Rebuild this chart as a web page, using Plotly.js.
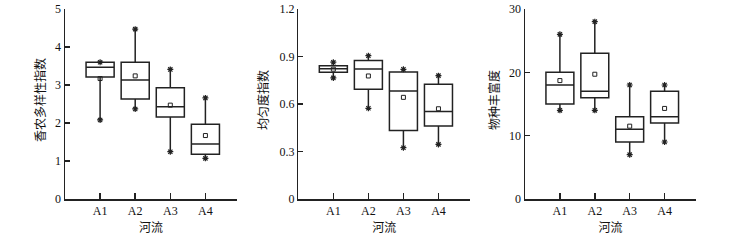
<!DOCTYPE html>
<html><head><meta charset="utf-8">
<script src="https://cdn.plot.ly/plotly-3.0.1.min.js"></script>
<style>html,body{margin:0;padding:0;background:#fff}#c{width:752px;height:240px}</style>
</head><body><div id="c"></div>
<script>
const categories = ["A1","A2","A3","A4"];
// 香农多样性指数
const sh_min = [2.08, 2.37, 1.245, 1.07];
const sh_q1 = [3.21, 2.63, 2.16, 1.18];
const sh_med = [3.47, 3.13, 2.43, 1.45];
const sh_q3 = [3.6, 3.6, 2.93, 1.97];
const sh_max = [3.6, 4.47, 3.41, 2.66];
const sh_mean = [3.17, 3.24, 2.47, 1.67];
// 均匀度指数
const ev_min = [0.765, 0.573, 0.324, 0.345];
const ev_q1 = [0.80, 0.693, 0.432, 0.461];
const ev_med = [0.822, 0.821, 0.682, 0.552];
const ev_q3 = [0.842, 0.874, 0.802, 0.724];
const ev_max = [0.864, 0.905, 0.819, 0.779];
const ev_mean = [0.82, 0.777, 0.642, 0.57];
// 物种丰富度
const ri_min = [14, 14, 7, 9];
const ri_q1 = [15, 16, 9, 12];
const ri_med = [18, 17, 11, 13];
const ri_q3 = [20, 23, 13, 17];
const ri_max = [26, 28, 18, 18];
const ri_mean = [18.7, 19.7, 11.5, 14.3];

const yTitles = ["香农多样性指数", "均匀度指数", "物种丰富度"];
const yTicks = [[0,1,2,3,4,5],[0,0.3,0.6,0.9,1.2],[0,10,20,30]];
const yTickText = [["0","1","2","3","4","5"],["0","0.3","0.6","0.9","1.2"],["0","10","20","30"]];
const yRanges = [[0,5],[0,1.2],[0,30]];
const xTitle = "河流";

const sets = [
  [sh_min, sh_q1, sh_med, sh_q3, sh_max, sh_mean],
  [ev_min, ev_q1, ev_med, ev_q3, ev_max, ev_mean],
  [ri_min, ri_q1, ri_med, ri_q3, ri_max, ri_mean]
];
const W = 752, H = 240;
const xDom = [[65,237],[298.3,470],[525,696]];
const yDom = [(H-199)/H, (H-9)/H];
const titleX = [40, 263, 494];
const col = "#222";
const txt = "#111";
const data = [];
const layout = {
  width: W, height: H, margin: {l:0,r:0,t:0,b:0},
  paper_bgcolor: "#fff", plot_bgcolor: "#fff", showlegend: false,
  font: {family: "Liberation Serif, Noto Sans CJK SC", size: 12, color: txt},
  annotations: []
};
sets.forEach((s, i) => {
  const xa = i === 0 ? "x" : "x" + (i+1);
  const ya = i === 0 ? "y" : "y" + (i+1);
  data.push({
    type: "box", x: categories, xaxis: xa, yaxis: ya,
    lowerfence: s[0], q1: s[1], median: s[2], q3: s[3], upperfence: s[4],
    width: 0.8, whiskerwidth: 0, boxpoints: false,
    fillcolor: "#fff", line: {color: col, width: 1.5}
  });
  data.push({type: "scatter", mode: "markers", x: categories, y: s[4], xaxis: xa, yaxis: ya,
    marker: {symbol: "asterisk-open", size: 5, color: col, line: {color: col, width: 1.2}}});
  data.push({type: "scatter", mode: "markers", x: categories, y: s[0], xaxis: xa, yaxis: ya,
    marker: {symbol: "asterisk-open", size: 5, color: col, line: {color: col, width: 1.2}}});
  data.push({type: "scatter", mode: "markers", x: categories, y: s[5], xaxis: xa, yaxis: ya,
    marker: {symbol: "square-open", size: 4, color: col, line: {color: col, width: 1}}});
  const xk = i === 0 ? "xaxis" : "xaxis" + (i+1);
  const yk = i === 0 ? "yaxis" : "yaxis" + (i+1);
  layout[xk] = {
    domain: [xDom[i][0]/W, xDom[i][1]/W], anchor: ya,
    type: "category", range: [-1, 3.9],
    showline: true, linecolor: col, linewidth: 1.5, mirror: false,
    ticks: "inside", ticklen: 6, tickwidth: 1.5, tickcolor: col,
    showgrid: false, zeroline: false,
    tickfont: {family: "Liberation Serif", size: 12, color: txt},
    title: {text: xTitle, font: {family: "Noto Sans CJK SC", size: 12, color: txt}, standoff: 4}
  };
  layout[yk] = {
    domain: yDom, anchor: xa, range: yRanges[i],
    tickmode: "array", tickvals: yTicks[i], ticktext: yTickText[i],
    showline: true, linecolor: col, linewidth: 1.5,
    ticks: "inside", ticklen: 5, tickwidth: 1.5, tickcolor: col,
    showgrid: false, zeroline: false,
    tickfont: {family: "Liberation Serif", size: 12, color: txt}
  };
  layout.annotations.push({
    xref: "paper", yref: "paper", x: titleX[i]/W, y: ((H-100)/H),
    text: yTitles[i], textangle: -90, showarrow: false,
    xanchor: "center", yanchor: "middle",
    font: {family: "Noto Sans CJK SC", size: 12, color: txt}
  });
});
Plotly.newPlot("c", data, layout, {displayModeBar: false, staticPlot: true});
</script></body></html>
